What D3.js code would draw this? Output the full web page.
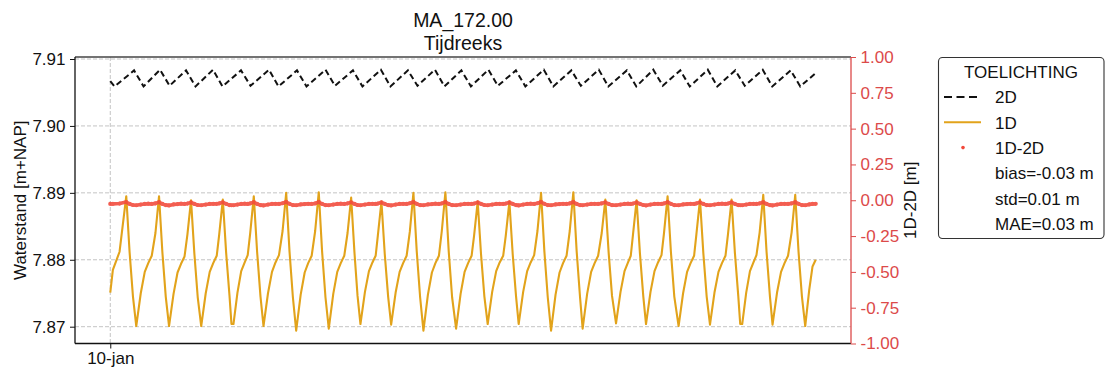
<!DOCTYPE html>
<html><head><meta charset="utf-8">
<script src="https://cdn.jsdelivr.net/npm/d3@7"></script>
<style>
body{margin:0;background:#fff}
svg{display:block}
text{font-family:"Liberation Sans",Arial,sans-serif}
</style>
</head><body>
<svg id="c" width="1111" height="371"></svg>
<script>
// ---------- DATA ----------
const title = ["MA_172.00", "Tijdreeks"];
// hours since 10-jan 00:00 (1D and 1D-2D share these timestamps)
const t1D = [
 0.00, 1.04, 3.72, 6.40, 7.72, 9.08,
 10.40, 12.20, 13.80, 15.20, 16.60, 18.08, 19.52, 20.84, 22.20,
 23.52, 25.32, 26.92, 28.32, 29.72, 30.88, 32.32, 33.64, 35.00,
 36.40, 38.20, 39.80, 41.20, 42.60, 43.60, 45.04, 46.36, 47.72,
 48.50, 49.30, 50.90, 52.40, 53.80, 55.00, 56.00, 57.44, 58.76, 60.12,
 61.32, 63.12, 64.72, 66.12, 67.52, 68.96, 70.40, 71.72, 73.08,
 74.40, 76.20, 77.80, 79.20, 80.60, 82.00, 83.44, 84.76, 86.12,
 87.44, 89.24, 90.84, 92.24, 93.64, 94.96, 96.40, 97.72, 98.96,
 100.12, 101.92, 103.52, 104.92, 106.20, 107.08, 108.52, 109.84, 111.20,
 112.40, 114.20, 115.80, 117.20, 118.60, 119.88, 121.32, 122.64, 124.00,
 125.32, 127.12, 128.72, 130.12, 131.52, 132.68, 134.12, 135.44, 136.80,
 138.40, 140.20, 141.80, 143.20, 144.60, 145.60, 147.04, 148.36, 149.72,
 151.04, 152.84, 154.44, 155.84, 157.24, 158.28, 159.72, 161.04, 162.40,
 163.44, 165.24, 166.84, 168.24, 169.64, 170.96, 172.40, 173.72, 175.08,
 176.40, 178.20, 179.80, 181.20, 182.60, 183.88, 185.32, 186.64, 188.00,
 189.04, 190.84, 192.44, 193.84, 195.24, 196.68, 198.12, 199.44, 200.80,
 202.40, 204.20, 205.80, 207.20, 208.30, 209.20, 210.64, 211.96, 213.32,
 214.40, 216.20, 217.80, 219.20, 220.60, 221.60, 223.04, 224.36, 225.72,
 227.44, 229.24, 230.84, 232.24, 233.64, 234.56, 236.00, 237.32, 238.68,
 240.00, 241.80, 243.40, 244.80, 246.20, 247.20, 248.64, 249.96, 251.32,
 252.10, 252.90, 254.50, 256.00, 257.40, 258.60, 259.88, 261.32, 262.64, 264.00,
 265.04, 266.84, 268.44, 269.84, 271.24, 272.68, 274.12, 275.44, 276.80,
 278.12, 279.72, 281.04, 282.32
];
const v1D = [
 7.8751, 7.8785, 7.8812, 7.8895, 7.8812, 7.8745,
 7.8701, 7.8750, 7.8782, 7.8795, 7.8806, 7.8840, 7.8895, 7.8812, 7.8745,
 7.8701, 7.8749, 7.8781, 7.8794, 7.8805, 7.8838, 7.8889, 7.8810, 7.8744,
 7.8701, 7.8750, 7.8782, 7.8795, 7.8806, 7.8838, 7.8890, 7.8811, 7.8746,
 7.8704, 7.8704, 7.8751, 7.8783, 7.8796, 7.8807, 7.8840, 7.8895, 7.8812, 7.8745,
 7.8701, 7.8750, 7.8782, 7.8796, 7.8807, 7.8843, 7.8900, 7.8813, 7.8744,
 7.8694, 7.8748, 7.8781, 7.8795, 7.8806, 7.8843, 7.8901, 7.8813, 7.8744,
 7.8697, 7.8749, 7.8782, 7.8795, 7.8806, 7.8840, 7.8893, 7.8811, 7.8746,
 7.8704, 7.8752, 7.8783, 7.8796, 7.8806, 7.8836, 7.8887, 7.8809, 7.8745,
 7.8703, 7.8751, 7.8782, 7.8795, 7.8806, 7.8842, 7.8900, 7.8813, 7.8744,
 7.8694, 7.8748, 7.8781, 7.8795, 7.8806, 7.8843, 7.8901, 7.8813, 7.8744,
 7.8697, 7.8749, 7.8782, 7.8795, 7.8806, 7.8836, 7.8887, 7.8809, 7.8745,
 7.8704, 7.8752, 7.8783, 7.8796, 7.8806, 7.8836, 7.8887, 7.8809, 7.8745,
 7.8704, 7.8752, 7.8783, 7.8796, 7.8807, 7.8843, 7.8900, 7.8813, 7.8744,
 7.8694, 7.8748, 7.8781, 7.8795, 7.8806, 7.8843, 7.8901, 7.8813, 7.8744,
 7.8697, 7.8749, 7.8782, 7.8795, 7.8806, 7.8840, 7.8890, 7.8811, 7.8746,
 7.8705, 7.8752, 7.8783, 7.8796, 7.8806, 7.8838, 7.8889, 7.8810, 7.8745,
 7.8704, 7.8752, 7.8783, 7.8796, 7.8807, 7.8840, 7.8895, 7.8812, 7.8745,
 7.8701, 7.8750, 7.8782, 7.8795, 7.8806, 7.8838, 7.8890, 7.8811, 7.8745,
 7.8703, 7.8751, 7.8782, 7.8795, 7.8806, 7.8838, 7.8890, 7.8811, 7.8746,
 7.8704, 7.8704, 7.8751, 7.8783, 7.8796, 7.8807, 7.8841, 7.8897, 7.8812, 7.8745,
 7.8703, 7.8751, 7.8782, 7.8795, 7.8806, 7.8841, 7.8897, 7.8812, 7.8745,
 7.8701, 7.8755, 7.8790, 7.8800
];
const vDiff = [
 -0.026, -0.025, -0.023, -0.013, -0.026, -0.033,
 -0.035, -0.030, -0.026, -0.024, -0.026, -0.022, -0.013, -0.026, -0.034,
 -0.036, -0.029, -0.027, -0.024, -0.026, -0.023, -0.015, -0.026, -0.033,
 -0.035, -0.030, -0.026, -0.025, -0.025, -0.022, -0.014, -0.025, -0.034,
 -0.035, -0.035, -0.030, -0.026, -0.024, -0.026, -0.022, -0.013, -0.026, -0.034,
 -0.036, -0.030, -0.026, -0.025, -0.026, -0.021, -0.012, -0.025, -0.034,
 -0.035, -0.029, -0.027, -0.025, -0.026, -0.022, -0.012, -0.026, -0.034,
 -0.035, -0.030, -0.026, -0.024, -0.026, -0.022, -0.014, -0.026, -0.033,
 -0.035, -0.030, -0.026, -0.025, -0.026, -0.023, -0.015, -0.026, -0.034,
 -0.036, -0.030, -0.026, -0.025, -0.026, -0.021, -0.012, -0.025, -0.034,
 -0.035, -0.029, -0.027, -0.024, -0.026, -0.022, -0.012, -0.026, -0.034,
 -0.035, -0.030, -0.026, -0.025, -0.026, -0.023, -0.015, -0.026, -0.033,
 -0.035, -0.030, -0.026, -0.025, -0.026, -0.023, -0.015, -0.026, -0.034,
 -0.036, -0.030, -0.026, -0.024, -0.026, -0.021, -0.012, -0.025, -0.034,
 -0.035, -0.029, -0.027, -0.025, -0.026, -0.022, -0.012, -0.026, -0.034,
 -0.035, -0.030, -0.026, -0.025, -0.026, -0.022, -0.014, -0.026, -0.034,
 -0.035, -0.030, -0.026, -0.024, -0.026, -0.023, -0.015, -0.026, -0.033,
 -0.036, -0.030, -0.026, -0.025, -0.026, -0.022, -0.013, -0.025, -0.034,
 -0.035, -0.029, -0.027, -0.025, -0.026, -0.022, -0.014, -0.026, -0.034,
 -0.035, -0.030, -0.026, -0.024, -0.026, -0.023, -0.014, -0.026, -0.034,
 -0.035, -0.035, -0.030, -0.026, -0.025, -0.026, -0.022, -0.013, -0.026, -0.034,
 -0.036, -0.030, -0.026, -0.025, -0.026, -0.022, -0.013, -0.025, -0.034,
 -0.035, -0.029, -0.026, -0.025
];
// 2D series: hours since 10-jan 00:00 and water level
const t2D = [
 0.00, 1.72,
 9.52, 13.32, 19.92, 23.72, 30.32, 34.12, 41.12, 44.92, 52.32, 56.12,
 63.52, 67.32, 74.72, 78.52, 86.12, 89.92, 97.12, 100.92, 108.32, 112.12,
 119.12, 122.92, 129.92, 133.72, 140.52, 144.32, 151.32, 155.12, 162.32, 166.12,
 173.52, 177.32, 184.52, 188.32, 195.52, 199.32, 206.72, 210.52, 217.32, 221.12,
 228.12, 231.92, 239.12, 242.92, 250.12, 253.92, 261.12, 264.92, 272.32, 276.12,
 282.32
];
const v2D = [
 7.9067, 7.9059,
 7.9083, 7.9059, 7.9084, 7.9060, 7.9083, 7.9059, 7.9084, 7.9059, 7.9083, 7.9060,
 7.9084, 7.9059, 7.9083, 7.9059, 7.9084, 7.9060, 7.9083, 7.9059, 7.9084, 7.9059,
 7.9083, 7.9060, 7.9084, 7.9059, 7.9083, 7.9059, 7.9084, 7.9060, 7.9083, 7.9059,
 7.9084, 7.9059, 7.9083, 7.9060, 7.9084, 7.9059, 7.9083, 7.9059, 7.9084, 7.9060,
 7.9083, 7.9059, 7.9084, 7.9059, 7.9083, 7.9060, 7.9084, 7.9059, 7.9083, 7.9059,
 7.9079
];
const leftTicks = [7.87, 7.88, 7.89, 7.90, 7.91];
const rightTicks = [-1.00, -0.75, -0.50, -0.25, 0.00, 0.25, 0.50, 0.75, 1.00];
const xTickHours = [0];
const xTickLabels = ["10-jan"];
const leftLabel = "Waterstand [m+NAP]";
const rightLabel = "1D-2D [m]";
const legendTitle = "TOELICHTING";
const legendLabels = ["2D", "1D", "1D-2D"];
const statLabels = ["bias=-0.03 m", "std=0.01 m", "MAE=0.03 m"];

// ---------- LAYOUT ----------
const L = 75, R = 851, T = 57, B = 343.5;
const C_1D = "#e2a31b", C_2D = "#111", C_DIFF = "#f2483a", C_RAX = "#dc4a4a";
const FS = 17;
const t0 = Date.UTC(2024, 0, 10);
const toDate = h => new Date(t0 + h * 3600e3);
const span = d3.max(t1D) - d3.min(t1D);
const x = d3.scaleTime()
  .domain([toDate(d3.min(t1D) - 0.05 * span), toDate(d3.max(t1D) + 0.05 * span)])
  .range([L, R]);
const yL = d3.scaleLinear().domain([7.86749, 7.91030]).range([B, T]);
const yR = d3.scaleLinear().domain([-1, 1]).range([B, T]);

const svg = d3.select("#c");
svg.append("rect").attr("width", 1111).attr("height", 371).attr("fill", "#fff");

// title
svg.selectAll("text.title").data(title).join("text")
  .attr("x", (L + R) / 2).attr("y", (d, i) => 26.5 + i * 23)
  .attr("text-anchor", "middle").attr("font-size", 19.5).attr("fill", "#111").text(d => d);

// grid
const grid = svg.append("g").attr("stroke", "#bdbdbd").attr("stroke-width", 0.9).attr("stroke-dasharray", "4,2");
grid.selectAll("line.h").data(leftTicks).join("line")
  .attr("x1", L).attr("x2", R).attr("y1", d => yL(d)).attr("y2", d => yL(d));
grid.selectAll("line.v").data(xTickHours).join("line")
  .attr("x1", d => x(toDate(d))).attr("x2", d => x(toDate(d))).attr("y1", T).attr("y2", B);

// series
const line1D = d3.line().x((d, i) => x(toDate(t1D[i]))).y(d => yL(d));
svg.append("path").datum(v1D).attr("d", line1D)
  .attr("fill", "none").attr("stroke", C_1D).attr("stroke-width", 2.1).attr("stroke-linejoin", "round");

const line2D = d3.line().x((d, i) => x(toDate(t2D[i]))).y(d => yL(d));
svg.append("path").datum(v2D).attr("d", line2D)
  .attr("fill", "none").attr("stroke", C_2D).attr("stroke-width", 2).attr("stroke-dasharray", "6,3.5");

const lineDiff = d3.line().x((d, i) => x(toDate(t1D[i]))).y(d => yR(d));
const gd = svg.append("g").attr("opacity", 0.88);
gd.append("path").datum(vDiff).attr("d", lineDiff)
  .attr("fill", "none").attr("stroke", C_DIFF).attr("stroke-width", 3.6).attr("stroke-linejoin", "round");
gd.selectAll("circle").data(vDiff).join("circle")
  .attr("cx", (d, i) => x(toDate(t1D[i]))).attr("cy", d => yR(d)).attr("r", 2.1).attr("fill", C_DIFF);

// axes
const fmt = d => d3.format(".2f")(d).replace("\u2212", "-");
const axL = svg.append("g").attr("transform", `translate(${L},0)`)
  .call(d3.axisLeft(yL).tickValues(leftTicks).tickFormat(fmt).tickSize(5).tickPadding(4.5).tickSizeOuter(0));
const axR = svg.append("g").attr("transform", `translate(${R},0)`)
  .call(d3.axisRight(yR).tickValues(rightTicks).tickFormat(fmt).tickSize(5).tickPadding(4.5).tickSizeOuter(0));
const axB = svg.append("g").attr("transform", `translate(0,${B})`)
  .call(d3.axisBottom(x).tickValues(xTickHours.map(toDate)).tickFormat((d, i) => xTickLabels[i]).tickSize(5).tickPadding(3).tickSizeOuter(0));
[axL, axB].forEach(a => {
  a.selectAll("text").attr("font-size", FS).attr("fill", "#111").attr("font-family", '"Liberation Sans",Arial,sans-serif');
  a.selectAll("line").attr("stroke", "#111");
  a.select(".domain").remove();
});
axR.selectAll("text").attr("font-size", FS).attr("fill", C_RAX).attr("font-family", '"Liberation Sans",Arial,sans-serif');
axR.selectAll("line").attr("stroke", C_RAX);
axR.select(".domain").remove();

// spines
svg.append("line").attr("x1", L).attr("x2", R).attr("y1", T).attr("y2", T).attr("stroke", "#444").attr("stroke-width", 1.3);
svg.append("line").attr("x1", L).attr("x2", R).attr("y1", B).attr("y2", B).attr("stroke", "#111").attr("stroke-width", 1.3);
svg.append("line").attr("x1", L).attr("x2", L).attr("y1", T).attr("y2", B).attr("stroke", "#111").attr("stroke-width", 1.3);
svg.append("line").attr("x1", R).attr("x2", R).attr("y1", T).attr("y2", B).attr("stroke", C_RAX).attr("stroke-width", 1.3);

// axis labels
svg.append("text").attr("transform", `translate(26,${(T + B) / 2}) rotate(-90)`)
  .attr("text-anchor", "middle").attr("font-size", FS).attr("fill", "#111").text(leftLabel);
svg.append("text").attr("transform", `translate(915.5,${(T + B) / 2}) rotate(-90)`)
  .attr("text-anchor", "middle").attr("font-size", FS).attr("fill", "#111").text(rightLabel);

// legend
const lg = svg.append("g");
lg.append("rect").attr("x", 938.5).attr("y", 57.5).attr("width", 165.5).attr("height", 181)
  .attr("rx", 4).attr("fill", "#fff").attr("stroke", "#333").attr("stroke-width", 1.1);
lg.append("text").attr("x", 1021).attr("y", 78.3).attr("text-anchor", "middle")
  .attr("font-size", FS).attr("fill", "#111").text(legendTitle);
const rowY = i => 103.3 + i * 25.3;
const allRows = legendLabels.concat(statLabels);
lg.selectAll("text.row").data(allRows).join("text")
  .attr("x", 995).attr("y", (d, i) => rowY(i)).attr("font-size", FS).attr("fill", "#111").text(d => d);
lg.append("line").attr("x1", 944).attr("x2", 981).attr("y1", rowY(0) - 6.3).attr("y2", rowY(0) - 6.3)
  .attr("stroke", C_2D).attr("stroke-width", 2).attr("stroke-dasharray", "8,4.5");
lg.append("line").attr("x1", 944).attr("x2", 981).attr("y1", rowY(1) - 6.3).attr("y2", rowY(1) - 6.3)
  .attr("stroke", C_1D).attr("stroke-width", 2);
lg.append("circle").attr("cx", 963).attr("cy", rowY(2) - 6.3).attr("r", 1.8).attr("fill", C_DIFF);
</script>
</body></html>
